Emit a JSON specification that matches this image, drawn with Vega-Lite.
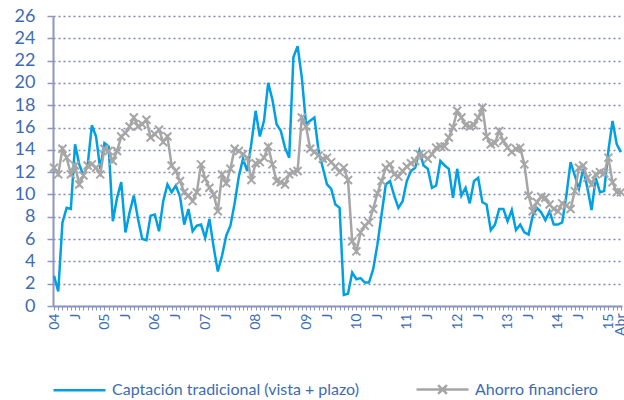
{
  "$schema": "https://vega.github.io/schema/vega-lite/v6.json",
  "width": 569,
  "height": 290,
  "autosize": {"type": "none"},
  "padding": {"left": 53, "top": 16, "right": 2, "bottom": 94},
  "background": "white",
  "data": {"values": [
    {"m":"2004-01","cap":2.7,"aho":12.4},{"m":"2004-02","cap":1.3,"aho":11.8},{"m":"2004-03","cap":7.5,"aho":14.1},{"m":"2004-04","cap":8.8,"aho":13.3},{"m":"2004-05","cap":8.7,"aho":11.8},{"m":"2004-06","cap":14.5,"aho":12.6},{"m":"2004-07","cap":12.7,"aho":10.9},{"m":"2004-08","cap":11.7,"aho":11.7},{"m":"2004-09","cap":12.6,"aho":12.6},{"m":"2004-10","cap":16.2,"aho":12.7},{"m":"2004-11","cap":15.2,"aho":12.4},{"m":"2004-12","cap":12.3,"aho":11.8},
    {"m":"2005-01","cap":14.6,"aho":14.1},{"m":"2005-02","cap":14.3,"aho":13.9},{"m":"2005-03","cap":7.6,"aho":13.0},{"m":"2005-04","cap":9.7,"aho":13.9},{"m":"2005-05","cap":11.1,"aho":15.2},{"m":"2005-06","cap":6.6,"aho":15.5},{"m":"2005-07","cap":8.4,"aho":16.1},{"m":"2005-08","cap":9.9,"aho":16.9},{"m":"2005-09","cap":7.8,"aho":16.1},{"m":"2005-10","cap":6.0,"aho":16.3},{"m":"2005-11","cap":5.9,"aho":16.7},{"m":"2005-12","cap":8.1,"aho":15.1},
    {"m":"2006-01","cap":8.2,"aho":15.4},{"m":"2006-02","cap":6.7,"aho":15.8},{"m":"2006-03","cap":9.4,"aho":14.7},{"m":"2006-04","cap":10.9,"aho":15.2},{"m":"2006-05","cap":10.2,"aho":12.6},{"m":"2006-06","cap":10.8,"aho":12.1},{"m":"2006-07","cap":9.8,"aho":11.2},{"m":"2006-08","cap":7.3,"aho":10.2},{"m":"2006-09","cap":8.7,"aho":9.9},{"m":"2006-10","cap":6.7,"aho":9.4},{"m":"2006-11","cap":7.2,"aho":10.2},{"m":"2006-12","cap":7.3,"aho":12.7},
    {"m":"2007-01","cap":6.1,"aho":11.4},{"m":"2007-02","cap":7.8,"aho":10.6},{"m":"2007-03","cap":5.3,"aho":10.0},{"m":"2007-04","cap":3.1,"aho":8.5},{"m":"2007-05","cap":4.5,"aho":11.8},{"m":"2007-06","cap":6.3,"aho":11.0},{"m":"2007-07","cap":7.2,"aho":12.3},{"m":"2007-08","cap":9.2,"aho":14.1},{"m":"2007-09","cap":11.6,"aho":13.9},{"m":"2007-10","cap":13.2,"aho":13.6},{"m":"2007-11","cap":12.1,"aho":13.3},{"m":"2007-12","cap":14.6,"aho":11.3},
    {"m":"2008-01","cap":17.5,"aho":12.8},{"m":"2008-02","cap":15.2,"aho":12.9},{"m":"2008-03","cap":16.6,"aho":13.3},{"m":"2008-04","cap":20.0,"aho":14.3},{"m":"2008-05","cap":18.5,"aho":12.7},{"m":"2008-06","cap":16.3,"aho":11.2},{"m":"2008-07","cap":15.7,"aho":11.1},{"m":"2008-08","cap":14.2,"aho":10.9},{"m":"2008-09","cap":13.3,"aho":11.8},{"m":"2008-10","cap":22.3,"aho":12.0},{"m":"2008-11","cap":23.3,"aho":12.1},{"m":"2008-12","cap":20.5,"aho":16.9},
    {"m":"2009-01","cap":16.3,"aho":16.1},{"m":"2009-02","cap":16.6,"aho":14.1},{"m":"2009-03","cap":16.9,"aho":13.8},{"m":"2009-04","cap":13.9,"aho":13.5},{"m":"2009-05","cap":12.4,"aho":13.2},{"m":"2009-06","cap":10.9,"aho":13.3},{"m":"2009-07","cap":10.5,"aho":12.9},{"m":"2009-08","cap":9.1,"aho":12.5},{"m":"2009-09","cap":8.8,"aho":12.0},{"m":"2009-10","cap":1.0,"aho":12.4},{"m":"2009-11","cap":1.1,"aho":11.3},{"m":"2009-12","cap":3.0,"aho":5.8},
    {"m":"2010-01","cap":2.4,"aho":4.9},{"m":"2010-02","cap":2.5,"aho":6.6},{"m":"2010-03","cap":2.1,"aho":7.2},{"m":"2010-04","cap":2.1,"aho":7.5},{"m":"2010-05","cap":3.3,"aho":8.7},{"m":"2010-06","cap":5.5,"aho":10.1},{"m":"2010-07","cap":8.2,"aho":11.2},{"m":"2010-08","cap":10.9,"aho":12.4},{"m":"2010-09","cap":11.2,"aho":12.7},{"m":"2010-10","cap":9.9,"aho":11.8},{"m":"2010-11","cap":8.8,"aho":11.6},{"m":"2010-12","cap":9.4,"aho":12.1},
    {"m":"2011-01","cap":11.2,"aho":12.5},{"m":"2011-02","cap":12.1,"aho":12.8},{"m":"2011-03","cap":12.4,"aho":13.0},{"m":"2011-04","cap":13.9,"aho":13.6},{"m":"2011-05","cap":12.6,"aho":13.5},{"m":"2011-06","cap":12.3,"aho":13.2},{"m":"2011-07","cap":10.6,"aho":13.6},{"m":"2011-08","cap":10.8,"aho":14.2},{"m":"2011-09","cap":13.0,"aho":14.3},{"m":"2011-10","cap":12.6,"aho":14.3},{"m":"2011-11","cap":12.3,"aho":15.1},{"m":"2011-12","cap":9.7,"aho":16.0},
    {"m":"2012-01","cap":12.3,"aho":17.5},{"m":"2012-02","cap":9.9,"aho":16.9},{"m":"2012-03","cap":10.6,"aho":16.2},{"m":"2012-04","cap":9.2,"aho":16.1},{"m":"2012-05","cap":11.2,"aho":16.2},{"m":"2012-06","cap":11.5,"aho":16.9},{"m":"2012-07","cap":9.3,"aho":17.8},{"m":"2012-08","cap":9.1,"aho":15.2},{"m":"2012-09","cap":6.8,"aho":14.5},{"m":"2012-10","cap":7.3,"aho":14.6},{"m":"2012-11","cap":8.7,"aho":15.7},{"m":"2012-12","cap":8.7,"aho":14.8},
    {"m":"2013-01","cap":7.6,"aho":14.2},{"m":"2013-02","cap":8.6,"aho":13.8},{"m":"2013-03","cap":6.8,"aho":14.1},{"m":"2013-04","cap":7.3,"aho":14.2},{"m":"2013-05","cap":6.6,"aho":12.7},{"m":"2013-06","cap":6.4,"aho":9.9},{"m":"2013-07","cap":8.1,"aho":8.5},{"m":"2013-08","cap":8.8,"aho":9.3},{"m":"2013-09","cap":8.4,"aho":9.8},{"m":"2013-10","cap":7.7,"aho":9.7},{"m":"2013-11","cap":8.5,"aho":9.1},{"m":"2013-12","cap":7.3,"aho":8.7},
    {"m":"2014-01","cap":7.3,"aho":8.5},{"m":"2014-02","cap":7.5,"aho":9.2},{"m":"2014-03","cap":9.9,"aho":9.0},{"m":"2014-04","cap":12.9,"aho":8.7},{"m":"2014-05","cap":11.7,"aho":10.3},{"m":"2014-06","cap":10.5,"aho":12.4},{"m":"2014-07","cap":12.3,"aho":12.6},{"m":"2014-08","cap":10.6,"aho":11.5},{"m":"2014-09","cap":8.6,"aho":10.9},{"m":"2014-10","cap":11.5,"aho":11.8},{"m":"2014-11","cap":10.2,"aho":12.0},{"m":"2014-12","cap":10.3,"aho":11.9},
    {"m":"2015-01","cap":13.9,"aho":13.3},{"m":"2015-02","cap":16.6,"aho":11.1},{"m":"2015-03","cap":14.5,"aho":10.2},{"m":"2015-04","cap":13.8,"aho":10.2}
  ]},
  "transform": [{"fold": ["cap", "aho"], "as": ["k", "v"]}],
  "encoding": {
    "x": {
      "field": "m", "type": "ordinal", "sort": "ascending",
      "scale": {"type": "point", "padding": 0.25},
      "axis": {
        "title": null,
        "labelAngle": -90,
        "labelOverlap": false,
        "labelFont": "Lato",
        "labelFontSize": 14,
        "labelColor": "#3d6cb4",
        "labelPadding": 3,
        "labelExpr": "substring(datum.value,5,7)=='01' ? substring(datum.value,2,4) : substring(datum.value,5,7)=='06' ? 'J' : datum.value=='2015-04' ? 'Abr' : ''",
        "tickSize": 4,
        "tickColor": "#8c96c3",
        "tickWidth": 1,
        "domainColor": "#8c96c3",
        "domainWidth": 2,
        "grid": false
      }
    },
    "y": {
      "field": "v", "type": "quantitative",
      "scale": {"domain": [0, 26], "nice": false},
      "axis": {
        "title": null,
        "values": [0,2,4,6,8,10,12,14,16,18,20,22,24,26],
        "labelFont": "Lato",
        "labelFontSize": 18,
        "labelColor": "#3d6cb4",
        "labelPadding": 12,
        "tickSize": 6,
        "tickColor": "#8c96c3",
        "tickWidth": 1.5,
        "domainColor": "#8c96c3",
        "domainWidth": 2,
        "grid": true,
        "gridColor": "#7f88bb",
        "gridDash": [2, 3],
        "gridWidth": 1.5
      }
    }
  },
  "layer": [
    {
      "mark": {"type": "line", "strokeWidth": 2.5},
      "encoding": {
        "color": {
          "field": "k", "type": "nominal",
          "scale": {"domain": ["cap", "aho"], "range": ["#00a0e3", "#a6a6a6"]},
          "legend": {
            "orient": "none",
            "legendX": -1,
            "legendY": 346,
            "direction": "horizontal",
            "title": null,
            "symbolType": "stroke",
            "symbolSize": 2704,
            "symbolStrokeWidth": 2.5,
            "labelFont": "Lato",
            "labelFontSize": 16,
            "labelColor": "#3d6cb4",
            "labelOffset": 5,
            "columnPadding": 52,
            "labelLimit": 400,
            "labelExpr": "datum.label=='cap' ? 'Captación tradicional (vista + plazo)' : 'Ahorro financiero'",
            "encode": {
              "symbols": {
                "update": {
                  "shape": {"signal": "datum.value=='aho' ? 'M-1,0H1M-0.17,-0.17L0.17,0.17M-0.17,0.17L0.17,-0.17' : 'M-1,0H1'"}
                }
              }
            }
          }
        }
      }
    },
    {
      "transform": [{"filter": "datum.k == 'aho'"}],
      "mark": {"type": "point", "shape": "M-1,-1L1,1M-1,1L1,-1", "filled": false, "size": 64, "stroke": "#a6a6a6", "strokeWidth": 2, "opacity": 1}
    }
  ],
  "config": {"view": {"stroke": null}}
}
